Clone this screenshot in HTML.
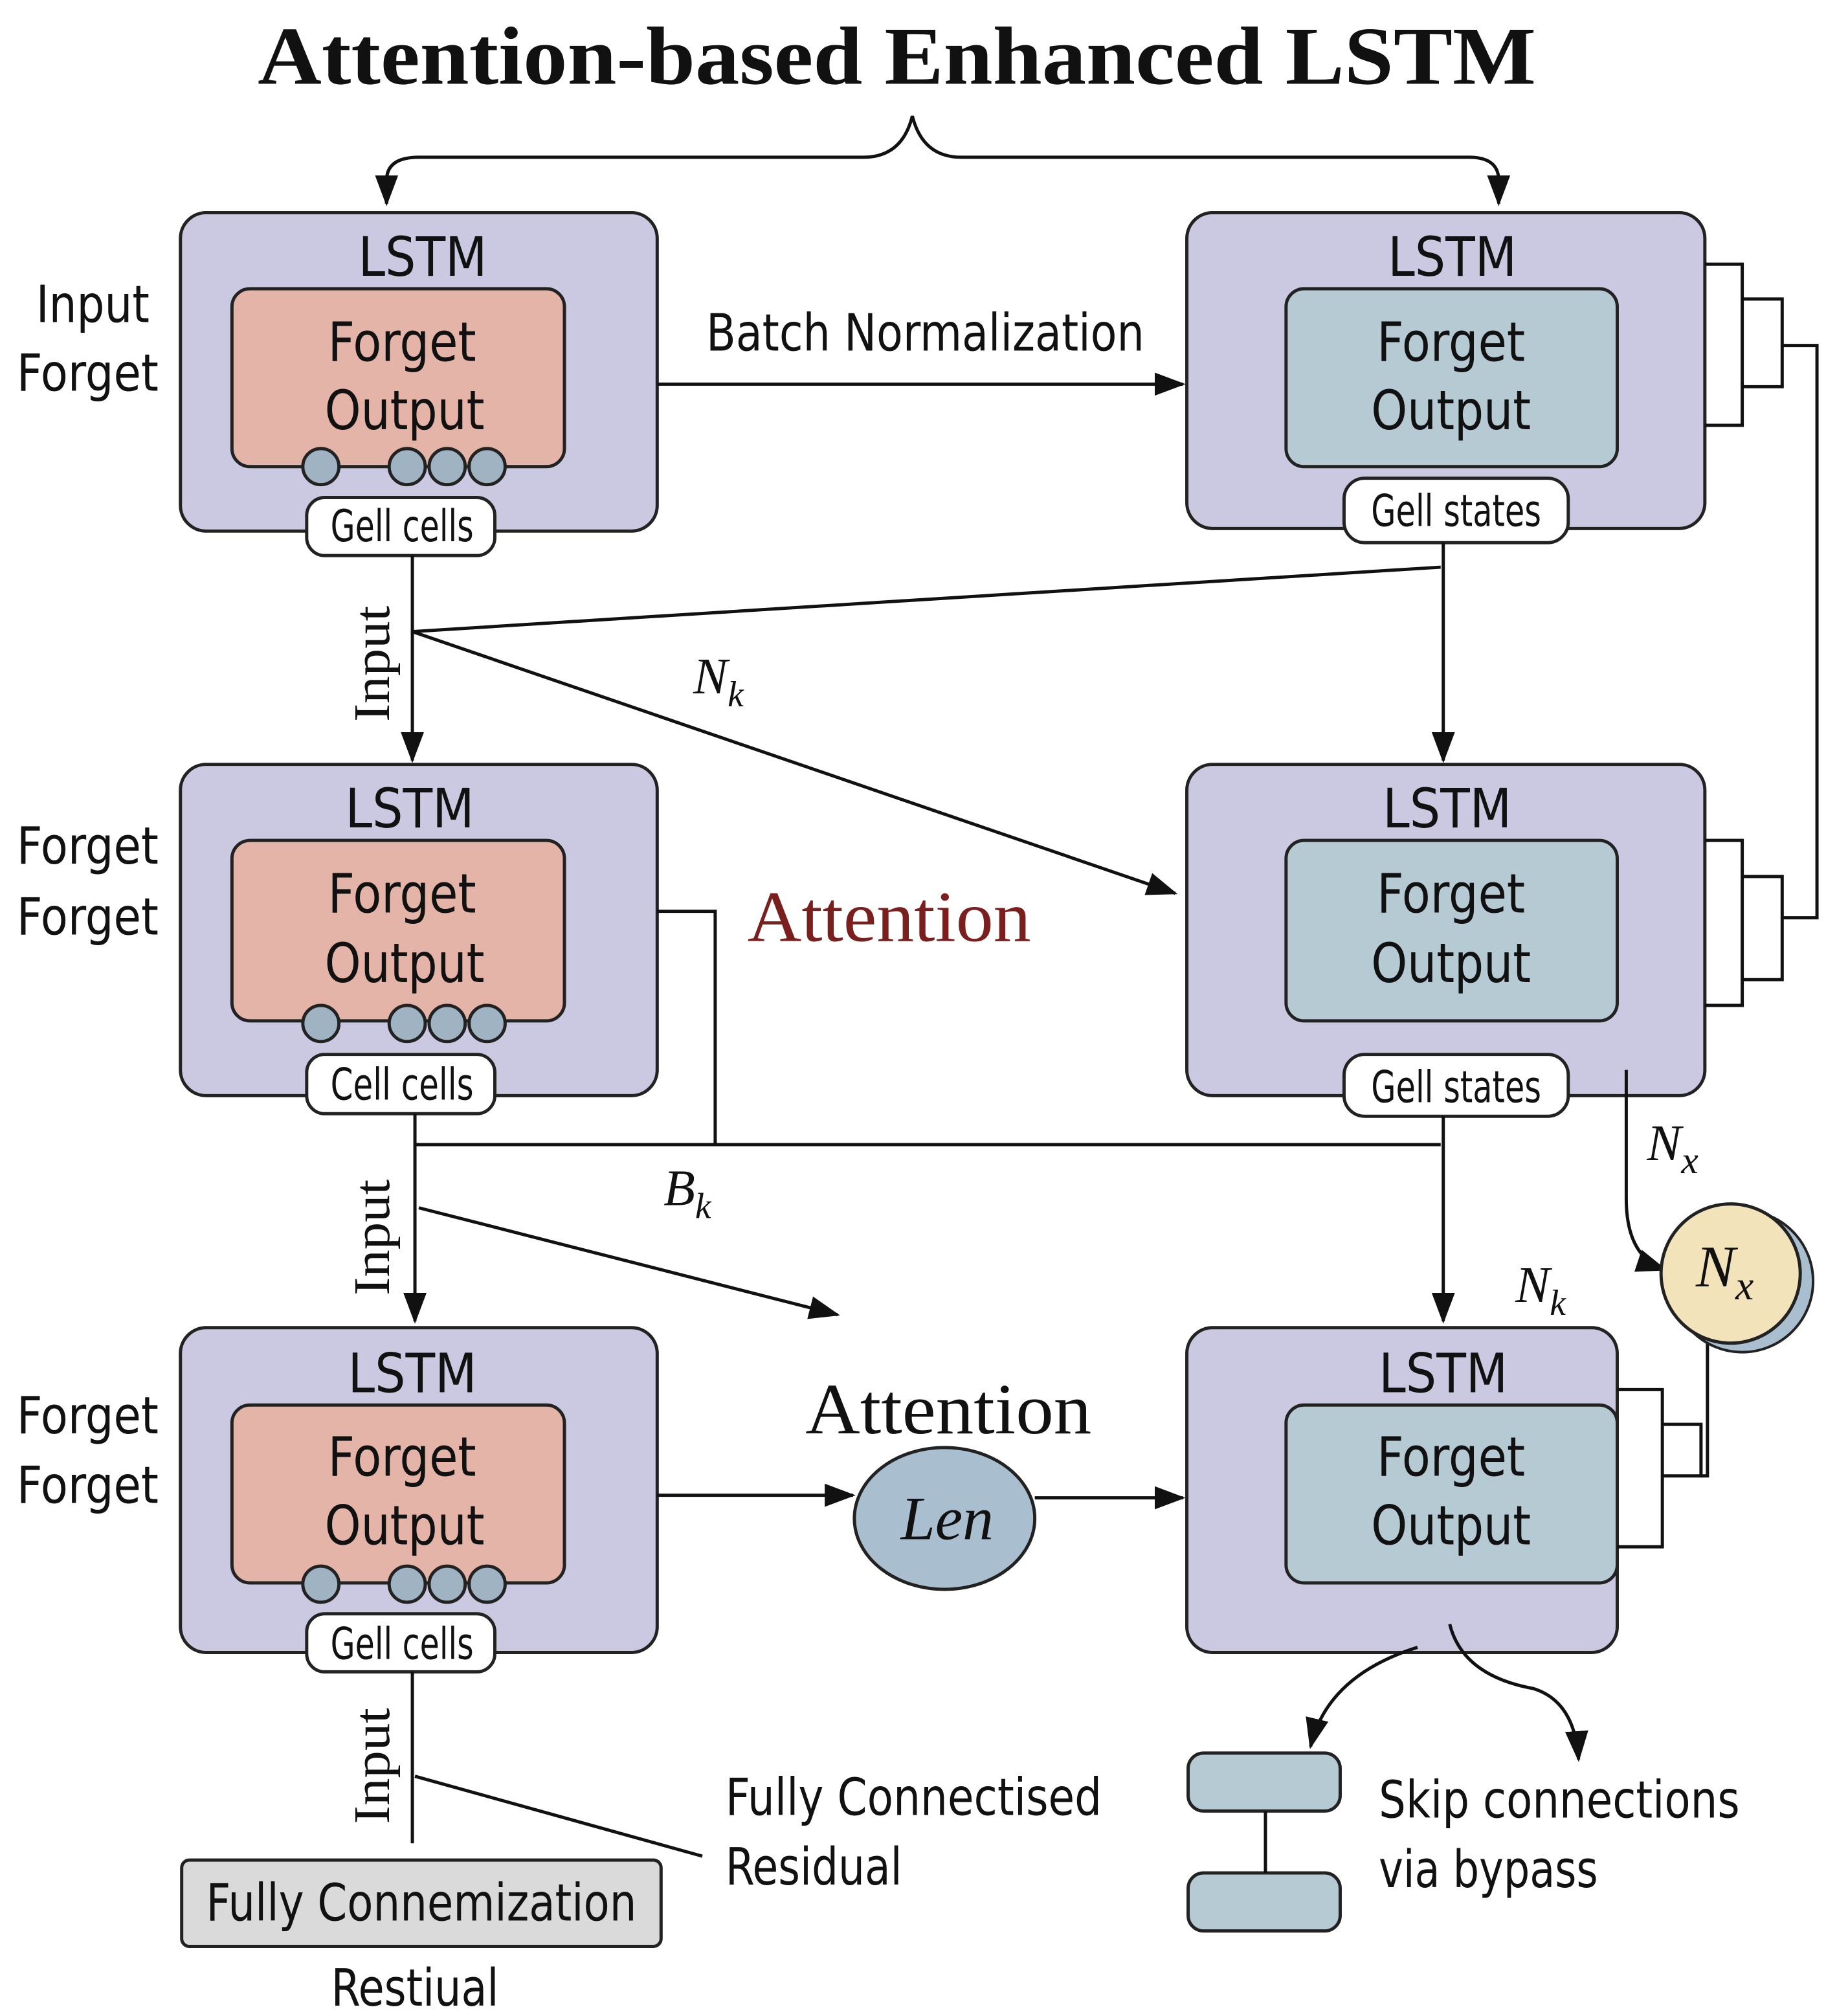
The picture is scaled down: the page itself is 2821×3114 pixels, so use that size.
<!DOCTYPE html>
<html><head><meta charset="utf-8"><style>
html,body{margin:0;padding:0;background:#fff;}
svg{display:block;}
.s{font-family:"Liberation Sans Narrow","DejaVu Sans Condensed","Liberation Sans",sans-serif;fill:#111;}
.r{font-family:"Liberation Serif",serif;}
</style></head><body>
<svg width="2821" height="3114" viewBox="0 0 1417 1564" preserveAspectRatio="none" xmlns="http://www.w3.org/2000/svg">
<defs>
<marker id="b" markerWidth="24" markerHeight="20" refX="22" refY="10" orient="auto" markerUnits="userSpaceOnUse" viewBox="0 0 24 20"><path d="M0,1 L24,10 L0,19z" fill="#111"/></marker></defs>
<rect width="1417" height="1564" fill="#fff"/>
<text x="200" y="65" class="r" font-weight="bold" font-size="64" fill="#111" textLength="992" lengthAdjust="spacingAndGlyphs">Attention-based Enhanced LSTM</text>
<g fill="none" stroke="#111" stroke-width="2.5">
<path d="M300,158 V140 Q300,122 325,122 H670 Q700,122 708,90 Q716,122 746,122 H1140 Q1163,122 1163,140 V158" marker-end="url(#b)"/>
<path d="M300,140 V158" marker-end="url(#b)"/>
</g>
<g stroke="#222" stroke-width="2.5">
<rect x="140" y="165" width="370" height="247" rx="20" fill="#cbc9e1"/>
<rect x="921" y="165" width="402" height="245" rx="20" fill="#cbc9e1"/>
<rect x="140" y="593" width="370" height="257" rx="20" fill="#cbc9e1"/>
<rect x="921" y="593" width="402" height="257" rx="20" fill="#cbc9e1"/>
<rect x="140" y="1030" width="370" height="252" rx="20" fill="#cbc9e1"/>
<rect x="921" y="1030" width="334" height="252" rx="20" fill="#cbc9e1"/>
<rect x="180" y="224" width="258" height="138" rx="14" fill="#e3b4a7"/>
<rect x="180" y="652" width="258" height="140" rx="14" fill="#e3b4a7"/>
<rect x="180" y="1090" width="258" height="138" rx="14" fill="#e3b4a7"/>
<rect x="998" y="224" width="257" height="138" rx="14" fill="#b6cad4"/>
<rect x="998" y="652" width="257" height="140" rx="14" fill="#b6cad4"/>
<rect x="998" y="1090" width="257" height="138" rx="14" fill="#b6cad4"/>
<g fill="#a0b3c3">
<circle cx="249" cy="362" r="14"/><circle cx="316" cy="362" r="14"/><circle cx="347" cy="362" r="14"/><circle cx="378" cy="362" r="14"/>
<circle cx="249" cy="794" r="14"/><circle cx="316" cy="794" r="14"/><circle cx="347" cy="794" r="14"/><circle cx="378" cy="794" r="14"/>
<circle cx="249" cy="1229" r="14"/><circle cx="316" cy="1229" r="14"/><circle cx="347" cy="1229" r="14"/><circle cx="378" cy="1229" r="14"/>
</g>
<g fill="#fff">
<rect x="238" y="386" width="146" height="45" rx="14"/>
<rect x="1043" y="371" width="174" height="50" rx="16"/>
<rect x="238" y="818" width="146" height="46" rx="14"/>
<rect x="1043" y="818" width="174" height="48" rx="16"/>
<rect x="238" y="1252" width="146" height="45" rx="14"/>
</g>
<rect x="922" y="1360" width="118" height="45" rx="12" fill="#b6cad4"/>
<rect x="922" y="1453" width="118" height="45" rx="12" fill="#b6cad4"/>
<rect x="141" y="1443" width="372" height="67" rx="6" fill="#dadada"/>
</g>
<g fill="none" stroke="#111" stroke-width="2.5">
<path d="M1323,205 H1352 V330 H1323"/><path d="M1352,232 H1383 V300 H1352"/>
<path d="M1383,268 H1410 V712 H1383"/>
<path d="M1323,652 H1352 V780 H1323"/><path d="M1352,680 H1383 V760 H1352"/>
<path d="M1255,1078 H1290 V1200 H1255"/><path d="M1290,1105 H1320 V1145 H1290"/><path d="M1325,1040 V1145 H1320"/>
<line x1="982" y1="1405" x2="982" y2="1453"/>
<path d="M510,298 H918" marker-end="url(#b)"/>
<path d="M320,431 V590" marker-end="url(#b)"/>
<path d="M320,490 L1118,440"/>
<path d="M1120,421 V590" marker-end="url(#b)"/>
<path d="M320,490 L912,693" marker-end="url(#b)"/>
<path d="M510,707 H555 V888"/>
<path d="M322,888 H1118"/>
<path d="M322,864 V1025" marker-end="url(#b)"/>
<path d="M325,937 L650,1020" marker-end="url(#b)"/>
<path d="M1120,866 V1025" marker-end="url(#b)"/>
<path d="M1262,830 V930 Q1262,975 1292,985" marker-end="url(#b)"/>
<path d="M510,1160 H662" marker-end="url(#b)"/>
<path d="M803,1162 H918" marker-end="url(#b)"/>
<path d="M1100,1278 Q1030,1300 1017,1355" marker-end="url(#b)"/>
<path d="M1125,1260 Q1135,1300 1190,1310 Q1222,1320 1225,1365" marker-end="url(#b)"/>
<path d="M320,1297 V1430"/>
<path d="M322,1378 L545,1440"/>
</g>
<circle cx="1352" cy="994" r="55" fill="#a9bfd0" stroke="#222" stroke-width="2"/>
<circle cx="1343" cy="988" r="54" fill="#f2e3ba" stroke="#222" stroke-width="2.5"/>
<ellipse cx="733" cy="1178" rx="70" ry="55" fill="#a9bfcf" stroke="#222" stroke-width="2.5"/>
<g class="s" text-anchor="middle" font-size="42" lengthAdjust="spacingAndGlyphs">
<text x="328" y="214" textLength="100" lengthAdjust="spacingAndGlyphs">LSTM</text><text x="1127" y="214" textLength="100" lengthAdjust="spacingAndGlyphs">LSTM</text>
<text x="318" y="642" textLength="100" lengthAdjust="spacingAndGlyphs">LSTM</text><text x="1123" y="642" textLength="100" lengthAdjust="spacingAndGlyphs">LSTM</text>
<text x="320" y="1080" textLength="100" lengthAdjust="spacingAndGlyphs">LSTM</text><text x="1120" y="1080" textLength="100" lengthAdjust="spacingAndGlyphs">LSTM</text>
<text x="312" y="280" textLength="115" lengthAdjust="spacingAndGlyphs">Forget</text><text x="314" y="333" textLength="124" lengthAdjust="spacingAndGlyphs">Output</text>
<text x="312" y="708" textLength="115" lengthAdjust="spacingAndGlyphs">Forget</text><text x="314" y="762" textLength="124" lengthAdjust="spacingAndGlyphs">Output</text>
<text x="312" y="1145" textLength="115" lengthAdjust="spacingAndGlyphs">Forget</text><text x="314" y="1198" textLength="124" lengthAdjust="spacingAndGlyphs">Output</text>
<text x="1126" y="280" textLength="115" lengthAdjust="spacingAndGlyphs">Forget</text><text x="1126" y="333" textLength="124" lengthAdjust="spacingAndGlyphs">Output</text>
<text x="1126" y="708" textLength="115" lengthAdjust="spacingAndGlyphs">Forget</text><text x="1126" y="762" textLength="124" lengthAdjust="spacingAndGlyphs">Output</text>
<text x="1126" y="1145" textLength="115" lengthAdjust="spacingAndGlyphs">Forget</text><text x="1126" y="1198" textLength="124" lengthAdjust="spacingAndGlyphs">Output</text>
<g font-size="34"><text x="312" y="420" textLength="111" lengthAdjust="spacingAndGlyphs">Gell cells</text><text x="1130" y="408" textLength="132" lengthAdjust="spacingAndGlyphs">Gell states</text>
<text x="312" y="853" textLength="111" lengthAdjust="spacingAndGlyphs">Cell cells</text><text x="1130" y="855" textLength="132" lengthAdjust="spacingAndGlyphs">Gell states</text><text x="312" y="1287" textLength="111" lengthAdjust="spacingAndGlyphs">Gell cells</text></g>
<g font-size="40"><text x="72" y="250" textLength="88" lengthAdjust="spacingAndGlyphs">Input</text><text x="68" y="303" textLength="110" lengthAdjust="spacingAndGlyphs">Forget</text>
<text x="68" y="670" textLength="110" lengthAdjust="spacingAndGlyphs">Forget</text><text x="68" y="725" textLength="110" lengthAdjust="spacingAndGlyphs">Forget</text>
<text x="68" y="1112" textLength="110" lengthAdjust="spacingAndGlyphs">Forget</text><text x="68" y="1166" textLength="110" lengthAdjust="spacingAndGlyphs">Forget</text>
<text x="718" y="272" textLength="340" lengthAdjust="spacingAndGlyphs">Batch Normalization</text>
<text x="327" y="1490" textLength="334" lengthAdjust="spacingAndGlyphs">Fully Connemization</text>
<text x="322" y="1556" textLength="130" lengthAdjust="spacingAndGlyphs">Restiual</text></g>
</g>
<g class="s" font-size="40"><text x="563" y="1408" textLength="292" lengthAdjust="spacingAndGlyphs">Fully Connectised</text><text x="563" y="1462" textLength="137" lengthAdjust="spacingAndGlyphs">Residual</text>
<text x="1070" y="1410" textLength="280" lengthAdjust="spacingAndGlyphs">Skip connections</text><text x="1070" y="1464" textLength="170" lengthAdjust="spacingAndGlyphs">via bypass</text></g>
<g class="r" font-size="40" fill="#111" text-anchor="middle">
<text transform="translate(302,515) rotate(-90)" textLength="90" lengthAdjust="spacingAndGlyphs">Input</text>
<text transform="translate(302,960) rotate(-90)" textLength="90" lengthAdjust="spacingAndGlyphs">Input</text>
<text transform="translate(302,1370) rotate(-90)" textLength="90" lengthAdjust="spacingAndGlyphs">Input</text>
</g>
<g class="r" font-style="italic" fill="#111" font-size="40">
<text x="538" y="538">N<tspan font-size="28" dy="10">k</tspan></text>
<text x="515" y="935">B<tspan font-size="28" dy="10">k</tspan></text>
<text x="1278" y="900">N<tspan font-size="30" dy="10">x</tspan></text>
<text x="1176" y="1010">N<tspan font-size="28" dy="10">k</tspan></text>
<text x="1316" y="998" font-size="46">N<tspan font-size="32" dy="10">x</tspan></text>
<text x="735" y="1194" font-size="48" text-anchor="middle">Len</text>
</g>
<text x="690" y="730" class="r" font-size="56" fill="#7a1e1e" text-anchor="middle" textLength="220" lengthAdjust="spacingAndGlyphs">Attention</text>
<text x="736" y="1112" class="r" font-size="56" fill="#111" text-anchor="middle" textLength="222" lengthAdjust="spacingAndGlyphs">Attention</text>
</svg>
</body></html>
